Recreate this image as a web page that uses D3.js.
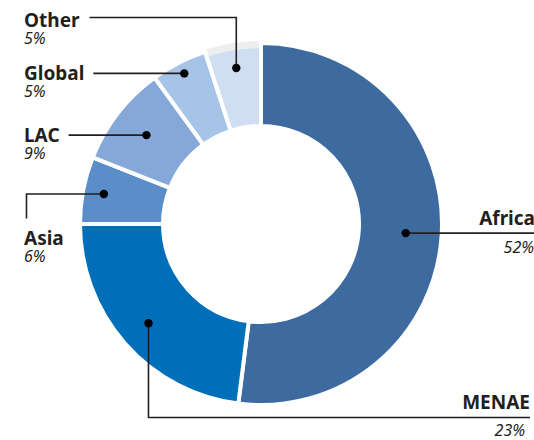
<!DOCTYPE html>
<html>
<head>
<meta charset="utf-8">
<script src="https://cdn.jsdelivr.net/npm/d3@7"></script>
<style>
  body { margin: 0; background: #fff; }
  svg { display: block; font-family: "Noto Sans", sans-serif; }
  .name { font-weight: 700; font-size: 19px; fill: #231f20; }
  .pct { font-style: italic; font-size: 16px; fill: #231f20; }
</style>
</head>
<body>
<div id="chart"></div>
<script>
// data (share of total, %)
const regions = ["Africa", "MENAE", "Asia", "LAC", "Global", "Other"];
const shares = [52, 23, 6, 9, 5, 5];

const width = 534, height = 440;
const cx = 261, cy = 224;
const outerR = 181, innerR = 98;

const color = d3.scaleOrdinal()
    .domain(regions)
    .range(["#3d6b9f", "#006fb9", "#5b8ec8", "#85a8d8", "#a6c4e7", "#cfdef1"]);

const svg = d3.select("#chart")
    .append("svg")
    .attr("width", width)
    .attr("height", height);

const g = svg.append("g")
    .attr("transform", `translate(${cx},${cy})`);

const pie = d3.pie()
    .sort(null)
    .value(d => d.value);

const slices = pie(regions.map((r, i) => ({ region: r, value: shares[i] })));

const arc = d3.arc().innerRadius(innerR).outerRadius(outerR);

g.selectAll("path.slice")
    .data(slices)
    .join("path")
    .attr("class", "slice")
    .attr("d", d => d.data.region === "Other"
        ? d3.arc().innerRadius(innerR).outerRadius(178)(d)
        : arc(d))
    .attr("fill", d => color(d.data.region))
    .attr("stroke", "#fff")
    .attr("stroke-width", 4);

// faint rim on top of the "Other" slice
const otherSlice = slices.find(d => d.data.region === "Other");
g.append("path")
    .attr("d", d3.arc().innerRadius(176).outerRadius(183).padAngle(0.022).padRadius(180)(otherSlice))
    .attr("fill", "#eeeeee");

// callout layout: radius of the dot inside each slice
const dotRadius = { Africa: 145, MENAE: 150, Asia: 160, LAC: 145, Global: 169, Other: 158 };

const dotPos = d => {
    const r = dotRadius[d.data.region];
    const c = d3.arc().innerRadius(r).outerRadius(r).centroid(d);
    return [c[0] + cx, c[1] + cy];
};

const ann = svg.append("g");

function leftLabel(name, pct, baseline) {
    const t = ann.append("text").attr("class", "name").attr("x", 24).attr("y", baseline).text(name);
    ann.append("text").attr("class", "pct").attr("x", 24).attr("y", baseline + 17).text(pct);
    return 24 + t.node().getComputedTextLength();
}

function line(path) {
    ann.append("path")
        .attr("d", path)
        .attr("fill", "none")
        .attr("stroke", "#231f20")
        .attr("stroke-width", 1.6);
}

slices.forEach(d => {
    const region = d.data.region;
    const pct = d.data.value + "%";
    const [x, y] = dotPos(d);

    if (region === "Other") {
        const lineY = 17.5;
        const end = leftLabel(region, pct, lineY + 9);
        line(`M${end + 10},${lineY}H${x}V${y}`);
    } else if (region === "Global" || region === "LAC") {
        const end = leftLabel(region, pct, y + 7);
        line(`M${end + 9},${y}H${x}`);
    } else if (region === "Asia") {
        leftLabel(region, pct, 244.5);
        line(`M${x},${y}H26.5V218.5`);
    } else if (region === "MENAE") {
        ann.append("text").attr("class", "name").attr("x", 530).attr("y", 409)
            .attr("text-anchor", "end").text(region);
        ann.append("text").attr("class", "pct").attr("x", 525).attr("y", 435.5)
            .attr("text-anchor", "end").text(pct);
        line(`M${x},${y}V417.5H530`);
    } else if (region === "Africa") {
        ann.append("text").attr("class", "name").attr("x", 535).attr("y", 224.5)
            .attr("text-anchor", "end").text(region);
        ann.append("text").attr("class", "pct").attr("x", 534).attr("y", 253)
            .attr("text-anchor", "end").text(pct);
        line(`M${x},${y}H534`);
    }

    ann.append("circle")
        .attr("cx", x)
        .attr("cy", y)
        .attr("r", 4.2)
        .attr("fill", "#000");
});
</script>
</body>
</html>
